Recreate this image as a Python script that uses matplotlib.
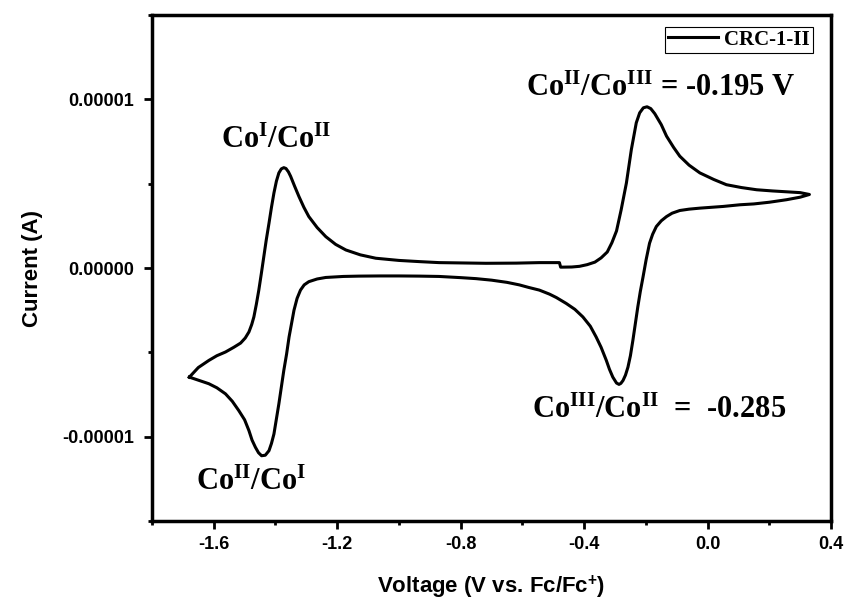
import matplotlib
matplotlib.use('Agg')
import matplotlib.pyplot as plt
from matplotlib.ticker import FixedLocator, MultipleLocator

plt.rcParams['mathtext.fontset'] = 'custom'
plt.rcParams['mathtext.rm'] = 'Liberation Serif:bold'
plt.rcParams['mathtext.bf'] = 'Liberation Serif:bold'
plt.rcParams['mathtext.it'] = 'Liberation Serif:bold:italic'
plt.rcParams['mathtext.sf'] = 'Liberation Sans:bold'

# CV of CRC-1-II, current in units of 1e-5 A
# forward (anodic) scan: left vertex -> right vertex
fwd_v = [-1.679, -1.650, -1.616, -1.590, -1.562, -1.535, -1.513, -1.498, -1.486, -1.477,
         -1.470, -1.462, -1.454, -1.446, -1.438, -1.430, -1.421, -1.413, -1.405, -1.397,
         -1.389, -1.381, -1.373, -1.366, -1.358, -1.351, -1.338, -1.324, -1.308, -1.292, -1.265,
         -1.237, -1.205, -1.172, -1.125, -1.075, -1.000, -0.934, -0.870, -0.800, -0.718,
         -0.620, -0.545, -0.480, -0.476, -0.440, -0.415, -0.390, -0.365, -0.345, -0.325,
         -0.310, -0.295, -0.280, -0.263, -0.247, -0.231, -0.220, -0.208, -0.196, -0.184, -0.171, -0.150,
         -0.133, -0.110, -0.090, -0.060, -0.025, 0.020, 0.061, 0.110, 0.159, 0.210,
         0.256, 0.300, 0.330]
fwd_i = [-0.647, -0.590, -0.548, -0.520, -0.498, -0.470, -0.445, -0.415, -0.379, -0.335,
         -0.290, -0.215, -0.131, -0.035, 0.067, 0.165, 0.266, 0.360, 0.445, 0.515,
         0.564, 0.588, 0.595, 0.590, 0.570, 0.544, 0.485, 0.424, 0.360, 0.305, 0.240,
         0.186, 0.140, 0.107, 0.078, 0.058, 0.045, 0.038, 0.032, 0.030, 0.028,
         0.029, 0.032, 0.032, 0.005, 0.006, 0.010, 0.020, 0.035, 0.060, 0.095,
         0.150, 0.220, 0.345, 0.504, 0.702, 0.861, 0.920, 0.950, 0.956, 0.945, 0.915, 0.850,
         0.782, 0.715, 0.663, 0.610, 0.564, 0.525, 0.494, 0.477, 0.464, 0.457,
         0.452, 0.447, 0.436]

# reverse (cathodic) scan: right vertex -> left vertex
rev_v = [0.330, 0.300, 0.256, 0.200, 0.150, 0.105, 0.050, -0.025, -0.060, -0.090,
         -0.115, -0.133, -0.150, -0.166, -0.178, -0.188, -0.199, -0.209, -0.218, -0.226,
         -0.234, -0.242, -0.250, -0.258, -0.266, -0.274, -0.281, -0.287, -0.295, -0.307,
         -0.318, -0.328, -0.345, -0.361, -0.380, -0.404, -0.430, -0.458, -0.490, -0.512,
         -0.545, -0.580, -0.610, -0.650, -0.700, -0.750, -0.800, -0.870, -0.934, -1.000,
         -1.060, -1.129, -1.180, -1.237, -1.265, -1.292, -1.307, -1.319, -1.330, -1.340,
         -1.348, -1.356, -1.364, -1.373, -1.381, -1.389, -1.397, -1.405, -1.413, -1.421,
         -1.433, -1.445, -1.455, -1.465, -1.476, -1.486, -1.500, -1.519, -1.540, -1.562,
         -1.590, -1.616, -1.650, -1.679]
rev_i = [0.436, 0.420, 0.405, 0.390, 0.380, 0.375, 0.365, 0.355, 0.349, 0.341,
         0.325, 0.305, 0.280, 0.246, 0.200, 0.147, 0.050, -0.052, -0.140, -0.230,
         -0.330, -0.429, -0.520, -0.588, -0.635, -0.667, -0.684, -0.690, -0.682, -0.647,
         -0.600, -0.548, -0.470, -0.409, -0.345, -0.290, -0.245, -0.210, -0.175, -0.155,
         -0.131, -0.115, -0.100, -0.085, -0.072, -0.063, -0.057, -0.050, -0.048, -0.047,
         -0.047, -0.048, -0.050, -0.056, -0.065, -0.081, -0.100, -0.131, -0.180, -0.250,
         -0.330, -0.409, -0.510, -0.607, -0.705, -0.805, -0.895, -0.984, -1.040, -1.083,
         -1.110, -1.113, -1.095, -1.063, -1.020, -0.964, -0.900, -0.845, -0.790, -0.746,
         -0.710, -0.686, -0.665, -0.647]

x_ticks = [-1.6, -1.2, -0.8, -0.4, 0.0, 0.4]
x_labels = ['-1.6', '-1.2', '-0.8', '-0.4', '0.0', '0.4']
y_ticks = [-0.00001, 0.0, 0.00001]
y_labels = ['-0.00001', '0.00000', '0.00001']

volt = fwd_v + rev_v
curr = [c * 1e-5 for c in fwd_i + rev_i]

fig = plt.figure(figsize=(8.46, 6.01), dpi=100)
ax = fig.add_axes([0.1797, 0.1331, 0.8026, 0.8419])

ax.plot(volt, curr, color='black', lw=2.2, solid_joinstyle='round', label='CRC-1-II')

ax.set_xlim(-1.8, 0.4)
ax.set_ylim(-1.5e-5, 1.5e-5)
ax.xaxis.set_major_locator(FixedLocator(x_ticks))
ax.set_xticklabels(x_labels)
ax.xaxis.set_minor_locator(MultipleLocator(0.2))
ax.yaxis.set_major_locator(FixedLocator(y_ticks))
ax.set_yticklabels(y_labels)
ax.yaxis.set_minor_locator(MultipleLocator(0.5e-5))

for side in ['left', 'right', 'top', 'bottom']:
    ax.spines[side].set_linewidth(2.5)
ax.tick_params(which='major', direction='out', length=6, width=2, pad=5)
ax.tick_params(axis='y', which='major', pad=7)
ax.tick_params(which='minor', direction='out', length=3, width=2)
for lab in ax.get_xticklabels() + ax.get_yticklabels():
    lab.set_fontfamily('Liberation Sans')
    lab.set_fontweight('bold')
    lab.set_fontsize(13)

ax.set_xlabel('Voltage (V vs. Fc/Fc$^{\\mathsf{+}}$)', fontfamily='Liberation Sans',
              fontweight='bold', fontsize=16, labelpad=14)
ax.set_ylabel('Current (A)', fontfamily='Liberation Sans', fontweight='bold',
              fontsize=16, labelpad=14)

serif = dict(fontfamily='Liberation Serif', fontweight='bold', fontsize=22,
             ha='center', va='baseline')
ax.text(-1.399, 0.714e-5, 'Co$^{\\mathrm{I}}$/Co$^{\\mathrm{II}}$', **serif)
ax.text(-0.153, 1.02e-5, 'Co$^{\\mathrm{II}}$/Co$^{\\mathrm{III}}$ = -0.195 V', **serif)
ax.text(-0.157, -0.887e-5, 'Co$^{\\mathrm{III}}$/Co$^{\\mathrm{II}}$  =  -0.285', **serif)
ax.text(-1.478, -1.315e-5, 'Co$^{\\mathrm{II}}$/Co$^{\\mathrm{I}}$', **serif)

leg = ax.legend(loc='upper right', bbox_to_anchor=(0.974, 0.977), borderaxespad=0,
                prop={'family': 'Liberation Serif', 'weight': 'bold', 'size': 15},
                handlelength=2.4, handletextpad=0.3, borderpad=0.15, fancybox=False,
                framealpha=1)
leg.get_frame().set_edgecolor('black')
leg.get_frame().set_linewidth(0.8)

fig.savefig('out.png', dpi=100)
